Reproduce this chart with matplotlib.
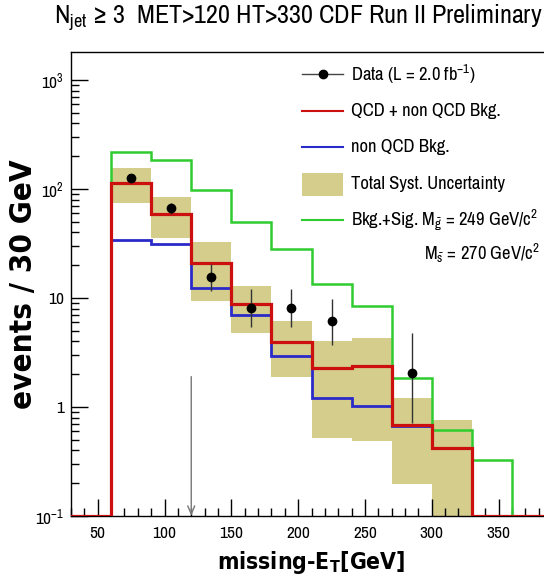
import matplotlib
matplotlib.use("Agg")
import matplotlib.pyplot as plt
from matplotlib.ticker import FixedLocator, FixedFormatter, MultipleLocator, NullFormatter
import numpy as np

# ---- data ----
edges = np.arange(30, 391, 30)            # 30 ... 390 GeV, 12 bins
qcd_total = [0, 114, 59, 20.8, 8.75, 3.97, 2.26, 2.38, 0.684, 0.418, 0, 0]
non_qcd = [0, 34, 31.5, 12.4, 7.03, 2.94, 1.22, 1.02, 0.67, 0.418, 0, 0]
bkg_sig = [0, 218, 185, 98, 49.8, 28.3, 13.4, 8.45, 1.86, 0.615, 0.326, 0]

band_lo = [74, 35.3, 9.45, 4.75, 1.87, 0.523, 0.488, 0.197, 0.01]
band_hi = [157, 85, 32.4, 13.0, 6.2, 4.06, 4.33, 1.22, 0.76]
band_left = [60, 90, 120, 150, 180, 210, 240, 270, 300]

data_x = [75, 105, 135, 165, 195, 225, 285]
data_y = [126, 67, 15.5, 8.1, 8.1, 6.1, 2.05]
data_lo = [115, 59, 11.7, 5.45, 5.4, 3.7, 0.71]
data_hi = [137, 75, 20.5, 12.1, 12.1, 9.7, 4.75]

cut_x = 120
ymin, ymax = 0.1, 1807

RED = '#cc1010'
BLUE = '#2a2ac8'
GREEN = '#2ecc2e'
BAND = '#d4cd8b'

# ROOT text looks squeezed, a narrow face is closest
FAM = ['Archivo Narrow', 'Liberation Sans', 'DejaVu Sans']
BOLD = dict(family=['DejaVu Sans', 'Liberation Sans'], fontstretch='condensed', fontweight='bold')
plt.rcParams['font.family'] = FAM
plt.rcParams['mathtext.fontset'] = 'custom'
plt.rcParams['mathtext.rm'] = 'Archivo Narrow'
plt.rcParams['mathtext.it'] = 'Archivo Narrow'
plt.rcParams['mathtext.bf'] = 'DejaVu Sans:bold'

W, H = 544, 582
fig = plt.figure(figsize=(W / 100, H / 100), dpi=100)


def px(x, y):
    return x / W, 1 - y / H


ax = fig.add_axes([71 / W, 1 - 516 / H, (552 - 71) / W, (516 - 52) / H])
ax.set_yscale('log')
ax.set_xlim(30, 390)
ax.set_ylim(ymin, ymax)


def clip(v):
    return np.where(np.asarray(v) > 0, v, ymin)


# uncertainty band
ax.bar(band_left, np.array(band_hi) - np.array(band_lo), bottom=band_lo,
       width=30, align='edge', color=BAND, linewidth=0, zorder=1)

# histograms
ax.stairs(clip(bkg_sig), edges, color=GREEN, lw=1.8, zorder=2)
ax.stairs(clip(non_qcd), edges, color=BLUE, lw=2.0, zorder=3)
ax.stairs(clip(qcd_total), edges, color=RED, lw=2.3, zorder=4)

# data
yerr = [np.array(data_y) - np.array(data_lo), np.array(data_hi) - np.array(data_y)]
ax.errorbar(data_x, data_y, yerr=yerr, fmt='o', color='black', ms=6,
            elinewidth=1.0, ecolor='#333333', capsize=0, zorder=5)

# cut arrow
ax.annotate('', xy=(cut_x, ymin), xytext=(cut_x, 1.9),
            arrowprops=dict(arrowstyle='->,head_length=0.6,head_width=0.25',
                            color='#777777', lw=1.0, shrinkA=0, shrinkB=0),
            zorder=6)

# ticks
ax.xaxis.set_major_locator(MultipleLocator(50))
ax.xaxis.set_minor_locator(MultipleLocator(10))
ax.yaxis.set_major_locator(FixedLocator([0.1, 1, 10, 100, 1000]))
ax.yaxis.set_major_formatter(FixedFormatter(['$10^{-1}$', '1', '10', '$10^{2}$', '$10^{3}$']))
minors = [m * 10.0 ** e for e in range(-1, 4) for m in range(2, 10)]
ax.yaxis.set_minor_locator(FixedLocator(minors))
ax.yaxis.set_minor_formatter(NullFormatter())
ax.tick_params(which='both', direction='in', top=False, right=False, width=1.0)
ax.tick_params(which='major', length=12, labelsize=12.5)
ax.tick_params(which='minor', length=6)
ax.tick_params(axis='x', pad=7)
ax.tick_params(axis='y', pad=5)
for s in ax.spines.values():
    s.set_linewidth(1.0)

ax.set_xlabel('missing-E$_\\mathregular{T}$[GeV]', fontsize=16.5, labelpad=6, **BOLD)
ax.set_ylabel('events / 30 GeV', fontsize=22.5, **BOLD)
ax.yaxis.set_label_coords(-0.068, 0.5)

# title
fig.text(*px(543, 18), 'N$_{\\rm jet}$ \u2265 3  MET>120 HT>330 CDF Run II Preliminary',
         ha='right', va='center', fontsize=18.8)

# legend drawn by hand
LX0, LX1, TX = 302, 343, 351
lfont = dict(fontsize=13.4, va='center', ha='left')
rows = [74, 110.7, 147.3, 184.3, 220]
fig.add_artist(plt.Line2D([LX0 / W, LX1 / W], [px(0, rows[0])[1]] * 2, color='#444444', lw=1.0))
fig.add_artist(plt.Line2D([(LX0 + LX1) / 2 / W], [px(0, rows[0])[1]], marker='o', ms=6, color='black'))
fig.text(*px(TX, rows[0]), 'Data (L = 2.0 fb$^{-1}$)', **lfont)
fig.add_artist(plt.Line2D([LX0 / W, LX1 / W], [px(0, rows[1])[1]] * 2, color=RED, lw=1.5))
fig.text(*px(TX, rows[1]), 'QCD + non QCD Bkg.', **lfont)
fig.add_artist(plt.Line2D([LX0 / W, LX1 / W], [px(0, rows[2])[1]] * 2, color=BLUE, lw=1.5))
fig.text(*px(TX, rows[2]), 'non QCD Bkg.', **lfont)
fig.add_artist(plt.Rectangle(px(LX0, 196), (LX1 - LX0) / W, 23.5 / H, color=BAND, lw=0))
fig.text(*px(TX, rows[3]), 'Total Syst. Uncertainty', **lfont)
fig.add_artist(plt.Line2D([LX0 / W, LX1 / W], [px(0, rows[4])[1]] * 2, color=GREEN, lw=1.5))
fig.text(*px(TX, rows[4]), 'Bkg.+Sig. M$_{\\tilde{g}}$ = 249 GeV/c$^2$', **lfont)
fig.text(*px(424, 253), 'M$_{\\tilde{s}}$ = 270 GeV/c$^2$', **lfont)

fig.savefig('out.png', dpi=100)
